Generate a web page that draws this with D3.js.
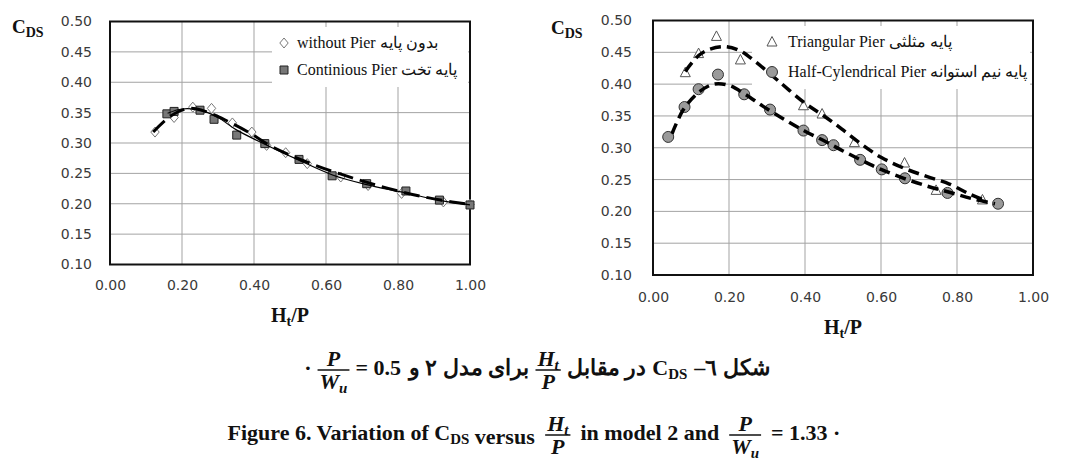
<!DOCTYPE html>
<html><head><meta charset="utf-8">
<script src="https://cdn.jsdelivr.net/npm/d3@7"></script>
<style>body{margin:0;background:#fff;} svg{display:block;}</style>
</head><body>
<svg id="c" width="1065" height="460"></svg>
<script>
// ---------- data ----------
const xTickValues = [0, 0.2, 0.4, 0.6, 0.8, 1.0];
const yTickValues = [0.10, 0.15, 0.20, 0.25, 0.30, 0.35, 0.40, 0.45, 0.50];

// left panel
const withoutPierX = [0.125, 0.178, 0.23, 0.282, 0.34, 0.394, 0.435, 0.488, 0.548, 0.641, 0.717, 0.81, 0.926, 1.0];
const withoutPierY = [0.318, 0.342, 0.359, 0.357, 0.333, 0.318, 0.296, 0.284, 0.266, 0.244, 0.230, 0.217, 0.203, 0.199];
const continiousX = [0.158, 0.178, 0.25, 0.289, 0.352, 0.43, 0.525, 0.617, 0.713, 0.822, 0.915, 1.0];
const continiousY = [0.348, 0.352, 0.354, 0.339, 0.313, 0.299, 0.273, 0.246, 0.233, 0.221, 0.206, 0.198];
const withoutTrendX = [0.12, 0.17, 0.22, 0.27, 0.33, 0.39, 0.45, 0.55, 0.65, 0.75, 0.85, 0.95, 1.0];
const withoutTrendY = [0.318, 0.345, 0.357, 0.351, 0.335, 0.316, 0.294, 0.268, 0.247, 0.229, 0.214, 0.203, 0.199];
const continiousTrendX = [0.16, 0.2, 0.25, 0.3, 0.35, 0.43, 0.52, 0.62, 0.71, 0.82, 0.92, 1.0];
const continiousTrendY = [0.349, 0.356, 0.354, 0.342, 0.322, 0.298, 0.273, 0.247, 0.232, 0.218, 0.205, 0.198];

// right panel
const triangularX = [0.085, 0.12, 0.167, 0.23, 0.396, 0.445, 0.53, 0.662, 0.745, 0.867];
const triangularY = [0.418, 0.448, 0.475, 0.438, 0.366, 0.353, 0.308, 0.276, 0.233, 0.218];
const halfCylX = [0.04, 0.083, 0.12, 0.171, 0.24, 0.308, 0.396, 0.445, 0.475, 0.545, 0.602, 0.663, 0.775, 0.908];
const halfCylY = [0.317, 0.364, 0.392, 0.415, 0.384, 0.360, 0.327, 0.312, 0.304, 0.281, 0.266, 0.252, 0.229, 0.212];
const triTrendX = [0.085, 0.12, 0.15, 0.19, 0.23, 0.27, 0.33, 0.40, 0.45, 0.50, 0.55, 0.60, 0.66, 0.72, 0.78, 0.83, 0.87];
const triTrendY = [0.420, 0.445, 0.455, 0.459, 0.452, 0.435, 0.405, 0.370, 0.350, 0.328, 0.305, 0.285, 0.268, 0.255, 0.243, 0.228, 0.218];
const cylTrendX = [0.05, 0.08, 0.12, 0.16, 0.20, 0.24, 0.29, 0.35, 0.40, 0.45, 0.50, 0.55, 0.60, 0.66, 0.72, 0.78, 0.84, 0.90];
const cylTrendY = [0.322, 0.360, 0.387, 0.400, 0.398, 0.385, 0.365, 0.343, 0.326, 0.311, 0.295, 0.280, 0.266, 0.252, 0.240, 0.230, 0.220, 0.212];

const legendLeft = ["without Pier بدون پایه", "Continious Pier پایه تخت"];
const legendRight = ["Triangular Pier پایه مثلثی", "Half-Cylendrical Pier پایه نیم استوانه"];

// ---------- drawing ----------
const svg = d3.select("#c");
const zip = (xs, ys) => xs.map((x, i) => [x, ys[i]]);
const SERIF = "'Liberation Serif','Times New Roman',serif";
const SANS = "'DejaVu Sans',Verdana,sans-serif";

const shapes = {
  diamond: "M0,-5L4.2,0L0,5L-4.2,0Z",
  square: "M-4,-4H4V4H-4Z",
  triangle: "M0,-5.5L5,4L-5,4Z",
  circle: d3.symbol(d3.symbolCircle, 95)()
};
const styles = {
  diamond: {fill: "#fff", stroke: "#777", sw: 1},
  square: {fill: "#777", stroke: "#222", sw: 1},
  triangle: {fill: "#fff", stroke: "#555", sw: 1},
  circle: {fill: "#9a9a9a", stroke: "#333", sw: 1}
};

function drawPanel(p) {
  const x = d3.scaleLinear().domain([0, 1]).range([p.x0, p.x1]);
  const y = d3.scaleLinear().domain([0.1, 0.5]).range([p.yBot, p.yTop]);
  const g = svg.append("g");

  // grid
  g.append("g").selectAll("line.h").data(yTickValues).join("line")
    .attr("x1", p.x0).attr("x2", p.x1).attr("y1", d => y(d)).attr("y2", d => y(d))
    .attr("stroke", "#a3a3a3").attr("stroke-width", 1);
  g.append("g").selectAll("line.v").data(xTickValues).join("line")
    .attr("x1", d => x(d)).attr("x2", d => x(d)).attr("y1", p.yTop).attr("y2", p.yBot)
    .attr("stroke", "#a3a3a3").attr("stroke-width", 1);

  // legend background
  g.append("rect").attr("x", p.leg.x).attr("y", p.leg.y).attr("width", p.leg.w).attr("height", p.leg.h)
    .attr("fill", "#fff");

  // axes labels via d3 axes
  const ya = g.append("g").attr("transform", `translate(${p.x0},0)`)
    .call(d3.axisLeft(y).tickValues(yTickValues).tickFormat(d3.format(".2f")).tickSize(0).tickPadding(p.yPad));
  const xa = g.append("g").attr("transform", `translate(0,${p.yBot})`)
    .call(d3.axisBottom(x).tickValues(xTickValues).tickFormat(d3.format(".2f")).tickSize(0).tickPadding(p.xPad));
  [ya, xa].forEach(a => {
    a.select(".domain").remove();
    a.selectAll("text").attr("font-family", SANS).attr("font-size", 14).attr("fill", "#3a3a3a");
  });

  // frame
  g.append("rect").attr("x", p.x0).attr("y", p.yTop).attr("width", p.x1 - p.x0).attr("height", p.yBot - p.yTop)
    .attr("fill", "none").attr("stroke", "#111").attr("stroke-width", 2);

  // markers
  p.series.forEach(s => {
    const st = styles[s.shape];
    g.append("g").selectAll("path").data(zip(s.x, s.y)).join("path")
      .attr("d", shapes[s.shape])
      .attr("transform", d => `translate(${x(d[0])},${y(d[1])})`)
      .attr("fill", st.fill).attr("stroke", st.stroke).attr("stroke-width", st.sw);
  });

  // trend lines
  const line = d3.line().x(d => x(d[0])).y(d => y(d[1])).curve(d3.curveCatmullRom.alpha(0.5));
  p.trends.forEach(t => {
    g.append("path").datum(zip(t.x, t.y)).attr("d", line)
      .attr("fill", "none").attr("stroke", "#000").attr("stroke-width", t.w)
      .attr("stroke-dasharray", t.dash || null);
  });

  // legend
  p.legendItems.forEach((txt, i) => {
    const ly = p.leg.rowY[i];
    const st = styles[p.series[i].shape];
    g.append("path").attr("d", shapes[p.series[i].shape])
      .attr("transform", `translate(${p.leg.mx},${ly})`)
      .attr("fill", st.fill).attr("stroke", st.stroke).attr("stroke-width", st.sw);
    g.append("text").attr("x", p.leg.tx).attr("y", ly + 5)
      .attr("font-family", SERIF).attr("font-size", p.leg.fs).attr("fill", "#111")
      .text(txt);
  });

  // C_DS title
  const ct = g.append("text").attr("x", p.cds[0]).attr("y", p.cds[1])
    .attr("font-family", SERIF).attr("font-weight", "bold").attr("fill", "#111");
  ct.append("tspan").attr("font-size", 19).text("C");
  ct.append("tspan").attr("font-size", 14).attr("dy", 4).text("DS");

  // Ht/P title
  const ht = g.append("text").attr("x", (p.x0 + p.x1) / 2).attr("y", p.titleY)
    .attr("text-anchor", "middle").attr("font-family", SERIF).attr("font-weight", "bold").attr("fill", "#111");
  ht.append("tspan").attr("font-size", 20).text("H");
  ht.append("tspan").attr("font-size", 14).attr("dy", 4).text("t");
  ht.append("tspan").attr("font-size", 20).attr("dy", -4).text("/P");
}

drawPanel({
  x0: 110, x1: 470, yTop: 21.5, yBot: 264.5, yPad: 18, xPad: 16,
  series: [{shape: "diamond", x: withoutPierX, y: withoutPierY}, {shape: "square", x: continiousX, y: continiousY}],
  trends: [
    {x: continiousTrendX, y: continiousTrendY, w: 1.2},
    {x: withoutTrendX, y: withoutTrendY, w: 3, dash: "16,7"}
  ],
  legendItems: legendLeft,
  leg: {x: 272, y: 27, w: 196, h: 60, rowY: [43, 70], mx: 284, tx: 297, fs: 16},
  cds: [12, 33], titleY: 322
});

drawPanel({
  x0: 653, x1: 1033, yTop: 20.5, yBot: 275, yPad: 21, xPad: 17,
  series: [{shape: "triangle", x: triangularX, y: triangularY}, {shape: "circle", x: halfCylX, y: halfCylY}],
  trends: [
    {x: triTrendX, y: triTrendY, w: 3.5, dash: "11,6"},
    {x: cylTrendX, y: cylTrendY, w: 3.5, dash: "11,6"}
  ],
  legendItems: legendRight,
  leg: {x: 752, y: 26, w: 278, h: 63, rowY: [42, 72], mx: 772, tx: 788, fs: 16},
  cds: [551, 34], titleY: 334
});

// ---------- captions ----------
const CAP = 22;
function textPiece(str, opts = {}) {
  return g => {
    const t = g.append("text").attr("font-family", SERIF).attr("font-weight", "bold")
      .attr("font-size", CAP).attr("fill", "#111");
    if (opts.rtl) t.attr("direction", "rtl").attr("unicode-bidi", "embed");
    str.forEach(s => {
      if (typeof s === "string") t.append("tspan").text(s);
      else t.append("tspan").attr("font-size", CAP * 0.68).attr("dy", 4).text(s.sub)
        .call(ts => t.append("tspan").attr("dy", -4).text(""));
    });
  };
}
function fracPiece(num, den) {
  return g => {
    const mk = (parts, yy) => {
      const t = g.append("text").attr("y", yy).attr("text-anchor", "middle")
        .attr("font-family", SERIF).attr("font-weight", "bold").attr("font-style", "italic")
        .attr("font-size", CAP).attr("fill", "#111");
      t.append("tspan").text(parts[0]);
      if (parts[1]) t.append("tspan").attr("font-size", CAP * 0.68).attr("dy", 4).text(parts[1]);
      return t;
    };
    const a = mk(num, -9), b = mk(den, 14);
    const w = Math.max(a.node().getComputedTextLength(), b.node().getComputedTextLength()) + 4;
    g.append("line").attr("x1", -w / 2).attr("x2", w / 2).attr("y1", -5).attr("y2", -5)
      .attr("stroke", "#111").attr("stroke-width", 1.5);
  };
}
function layoutLine(pieces, cx, baseline, gap) {
  const gs = pieces.map(fn => { const g = svg.append("g"); fn(g); return g; });
  const boxes = gs.map(g => g.node().getBBox());
  const total = d3.sum(boxes, b => b.width) + gap * (pieces.length - 1);
  let cur = cx - total / 2;
  gs.forEach((g, i) => {
    g.attr("transform", `translate(${cur - boxes[i].x},${baseline})`);
    cur += boxes[i].width + gap;
  });
}

layoutLine([
  textPiece(["·"]),
  fracPiece(["P"], ["W", "u"]),
  textPiece(["= 0.5"]),
  textPiece(["برای مدل ۲ و"], {rtl: true}),
  fracPiece(["H", "t"], ["P"]),
  textPiece(["در مقابل"], {rtl: true}),
  textPiece(["C", {sub: "DS"}]),
  textPiece(["شکل ٦–"], {rtl: true})
], 537, 375, 6);

layoutLine([
  textPiece(["Figure 6. Variation of C", {sub: "DS"}, " versus"]),
  fracPiece(["H", "t"], ["P"]),
  textPiece(["in model 2 and"]),
  fracPiece(["P"], ["W", "u"]),
  textPiece(["= 1.33 ·"])
], 534, 440, 10);
</script>
</body></html>
